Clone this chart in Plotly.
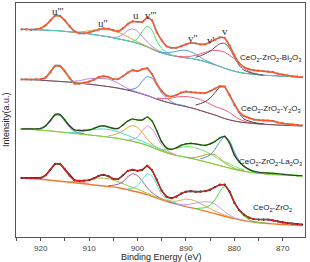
import plotly.graph_objects as go

# ---- energy grids (binding energy, eV) ----
E1 = list(range(924, 865, -1))   # 1 eV grid for measured spectra
E2 = list(range(924, 865, -2))   # 2 eV grid for backgrounds

# ================= CeO2-ZrO2-Bi2O3 =================
bi_data = [208, 208, 207.5, 208, 209, 212, 217, 222, 221.5, 217, 211, 206, 204, 204, 205, 206.5,
           208, 209, 208.5, 207, 206, 209, 213.5, 216, 215.5, 215.5, 220, 217, 205, 197, 191, 189.5,
           189.5, 191, 193, 194.5, 194, 193, 193, 195.5, 197.5, 200, 199.5, 192, 182, 174, 170, 168,
           167, 166.5, 166, 165.5, 165, 163.5, 162.5, 161.5, 161, 160.5, 160]
bi_bg = [208, 207.8, 207.5, 207, 206.5, 205.5, 204.5, 203.5, 202, 200.5, 198.5, 196.5, 194, 190.5,
         186, 183, 181, 179.5, 178, 175.5, 172.5, 169, 166, 164, 163, 162, 161.5, 161, 160.5, 160]
bi_u3_start, bi_u3 = 922, [208, 208, 208.5, 211.5, 216.5, 221.5, 221, 216, 210, 206, 204.5, 204]
bi_u2_start, bi_u2 = 914, [205.5, 205.5, 206.5, 207.8, 207.5, 205, 200.5, 195.5, 191, 186.5]
bi_u_start, bi_u = 906, [200.5, 200, 200.5, 203, 207, 208.5, 206, 201, 195.5, 191, 187.5, 185, 183.5, 182, 181]
bi_v3_start, bi_v3 = 902, [196, 196, 199, 206, 211, 207, 196, 189, 185, 182.5, 181, 180, 179.5]
bi_v2_start, bi_v2 = 896, [186, 185, 184.5, 185, 186, 187, 187, 185.5, 183, 180, 177, 175, 172.5]
bi_v1_start, bi_v1 = 892, [181, 180.7, 180.5, 181, 182, 183.5, 185, 186.5, 187, 186.5, 185, 182, 178.5,
                           174, 169, 166, 164, 163]
bi_v_start, bi_v = 888, [180, 181.5, 183.5, 186, 190, 193.5, 194, 189, 180, 172, 167, 165, 163.5, 162.7, 162]

# ================= CeO2-ZrO2-Y2O3 =================
y_data = [157.7, 157.7, 157.5, 157.7, 158, 159.5, 165, 171.5, 171.5, 166, 159, 153.5, 153.5, 154.5,
          155.5, 157.5, 160, 161, 160, 158, 158, 161, 164.5, 167, 166, 168, 169, 163, 153, 146, 141.5,
          140.5, 142, 144.5, 145.5, 145, 144.5, 144, 144, 146, 148.5, 151, 150.5, 142, 132, 125, 121,
          119, 117.5, 117, 116.5, 116.5, 116, 114.5, 113.5, 113, 112.5, 112, 111.5]
y_bg = [157.7, 157.5, 157, 156.3, 155.7, 155, 154, 153, 151.8, 150.5, 149, 147, 144.5, 141.5, 138,
        135, 132.5, 130.5, 128, 125, 122, 118.5, 116, 114.5, 113.5, 112.8, 112.2, 111.8, 111.4, 111]
y_u3_start, y_u3 = 922, [157.5, 157.5, 157.5, 159, 164, 170.5, 170.5, 164.5, 158.5, 155.5, 154.5, 154, 153.5]
y_u2_start, y_u2 = 914, [155.5, 156.5, 158.5, 158.7, 158, 154, 148.5, 145, 141.8, 138.3]
y_v3_start, y_v3 = 902, [147.5, 148, 150, 156, 160.5, 159, 152, 144, 139, 135.5, 133, 132, 131]
y_v2_start, y_v2 = 896, [139, 138.5, 138.5, 139, 140, 140.5, 140.5, 140, 139, 137.5, 135.5, 133, 130.5,
                         129, 127, 124.5, 121, 118, 116, 114.5, 114]
y_v_start, y_v = 888, [132, 133.5, 135.5, 139, 144.5, 150, 150, 143, 132, 124, 118, 116, 114.5, 113.7, 113]

# ================= CeO2-ZrO2-La2O3 =================
la_data = [108, 108, 108, 108, 108.5, 111, 116.5, 122.5, 122.5, 117, 111, 107, 106.5, 106.5, 107,
           108.5, 110.5, 111, 110, 108.5, 108.5, 112, 116, 118, 117, 117, 120, 116, 106, 95, 89, 87.5,
           89, 91.5, 93, 93.5, 93, 92, 91.5, 93, 95.5, 99, 100.5, 94, 82, 75, 70.5, 67.5, 65.5, 64.5,
           64, 63.7, 63.5, 63, 62.5, 62, 61.5, 61.2, 61]
la_bg = [108, 107.5, 106.8, 106, 105, 104, 103, 102, 101, 99.8, 98.5, 96.5, 94.5, 91.5, 87.5, 84,
         81.5, 79.5, 77.5, 75, 72.5, 70, 67.5, 65.5, 64, 63, 62.3, 61.8, 61.4, 61]
la_u3_start, la_u3 = 922, [108, 108, 108, 110.5, 115.5, 121.5, 121.5, 115.5, 109.5, 105.5, 104, 103.5]
la_u2_start, la_u2 = 914, [104.5, 105, 106.5, 108, 107.5, 105, 101.5, 97.5, 93.5, 89, 85]
la_u_start, la_u = 906, [101, 102, 103.5, 106, 109.5, 111.3, 109.5, 104.5, 98, 93, 89.5, 87, 85, 83.2, 82]
la_v3_start, la_v3 = 902, [97, 97.5, 100, 106, 111, 108, 100, 92, 87, 84, 82]
la_v2_start, la_v2 = 896, [88.5, 87.5, 87, 87.5, 88.5, 89.5, 90.3, 90, 89, 87.5, 85.5, 83, 80, 77, 75,
                           73, 70.5, 68.5, 67]
la_v1_start, la_v1 = 890, [79.5, 79, 79.5, 80.5, 82, 82.7, 82, 78.5, 74, 71, 68.5, 67, 66]
la_v_start, la_v = 887, [78, 79.5, 82, 87.5, 95, 100, 96, 85, 76, 70, 67, 65, 64, 63.5]

# ================= CeO2-ZrO2 =================
zr_data = [58.7, 58.7, 58.5, 58.5, 59, 61.5, 67, 73, 73, 67.5, 61, 56.5, 56, 56, 56.5, 58.5, 61, 62,
           60.5, 58, 57.5, 61.5, 66, 67, 66, 67, 71, 66.5, 57, 46, 40, 38.5, 40, 43, 45, 45.5, 45, 45,
           45.5, 47, 49.5, 52, 52, 45, 34, 26.5, 22, 19, 17.5, 17, 17, 17, 16, 15, 14, 13.5, 13, 12.5, 12]
zr_bg = [58.7, 58.2, 57.5, 56.5, 55.5, 54.5, 53.5, 52.3, 51.2, 50.2, 49, 47, 44.7, 42, 38.5, 35.3,
         32.5, 30, 28, 25.5, 23, 20.3, 18, 16, 14.5, 13.5, 12.7, 12, 11.5, 11]
zr_u3_start, zr_u3 = 922, [58.2, 58, 58, 60.5, 66, 72, 72, 66, 60, 56, 54.5, 54, 53]
zr_u2_start, zr_u2 = 914, [55, 55.5, 57, 58.7, 58, 55, 51, 47.5, 43.5, 39]
zr_u_start, zr_u = 906, [51, 51.5, 52.5, 55, 60, 63, 61, 55.5, 49, 44, 40.5, 38, 36, 34.5, 33]
zr_v3_start, zr_v3 = 902, [48, 48.5, 51, 57, 63, 60.5, 52, 42, 38, 35, 33.5, 32, 30.5]
zr_v2_start, zr_v2 = 896, [39, 37.5, 36, 35.5, 35.5, 36.5, 37.5, 37, 35.5, 33, 30.5, 28, 25.5, 23.5,
                           21.5, 20, 18.5]
zr_v1_start, zr_v1 = 892, [32.5, 32, 32, 32.5, 33.5, 34.5, 35, 34.5, 32.5, 29, 25, 21.5, 19, 17.5, 16.5]
zr_v_start, zr_v = 888, [28, 28.5, 29, 31.5, 37, 45, 50.5, 46, 35, 26, 20.5, 17, 15, 14, 13.5]

# ---- labels ----
peak_labels = ["u'''", "u''", "u", "v'''", "v''", "v'", "v"]
peak_label_x = [916.6, 907.3, 900.3, 897.4, 888.7, 884.8, 882.0]
peak_label_y = [226, 214.5, 222, 222, 199.5, 197.5, 206.5]
sample_names = ["CeO<sub>2</sub>-ZrO<sub>2</sub>-Bi<sub>2</sub>O<sub>3</sub>",
                "CeO<sub>2</sub>-ZrO<sub>2</sub>-Y<sub>2</sub>O<sub>3</sub>",
                "CeO<sub>2</sub>-ZrO<sub>2</sub>-La<sub>2</sub>O<sub>3</sub>",
                "CeO<sub>2</sub>-ZrO<sub>2</sub>"]
sample_label_x = [865.8, 865.8, 865.6, 867.6]
sample_label_y = [179, 128.5, 74.5, 28.5]

fig = go.Figure()


def line(x, y, color, width=1.0, shape="spline"):
    fig.add_trace(go.Scatter(x=x, y=y, mode="lines", line=dict(color=color, width=width, shape=shape,
                                                               smoothing=0.8),
                             hoverinfo="skip", showlegend=False))


def comp(start, vals, color, step=1):
    xs = [start - step * i for i in range(len(vals))]
    line(xs, vals, color)


def data(y, color):
    fig.add_trace(go.Scatter(x=E1, y=y, mode="lines+markers",
                             line=dict(color=color, width=1.4),
                             marker=dict(color=color, size=2.2),
                             hoverinfo="skip", showlegend=False))


# Bi2O3
line(E2, bi_bg, "#7A3F8C", 1.0)
line(E2, bi_bg, "#3FE0B0", 1.0)
comp(bi_u3_start, bi_u3, "#3CCFC8")
comp(bi_u2_start, bi_u2, "#D8A838", step=2)
comp(bi_u_start, bi_u, "#B088E8")
comp(bi_v3_start, bi_v3, "#45E070")
comp(bi_v2_start, bi_v2, "#5B9BD5")
comp(bi_v1_start, bi_v1, "#F05A78")
comp(bi_v_start, bi_v, "#505058")
line(E1, bi_data, "#86C8EE", 1.8)
data(bi_data, "#FF5424")

# Y2O3
line(E2, y_bg, "#D8A838", 1.0)
line(E2, y_bg, "#6A3D7A", 1.0)
comp(y_u3_start, y_u3, "#D8A838")
comp(y_u2_start, y_u2, "#B088E8", step=2)
comp(y_v3_start, y_v3, "#4A90D9")
comp(y_v2_start, y_v2, "#F05A78")
comp(y_v_start, y_v, "#404048")
line(E1, y_data, "#86C8EE", 1.8)
data(y_data, "#FF5424")

# La2O3
line(E2, la_bg, "#C8B040", 1.0)
line(E2, la_bg, "#6CD840", 1.0)
comp(la_u3_start, la_u3, "#9060B0")
comp(la_u2_start, la_u2, "#40E0C8", step=2)
comp(la_u_start, la_u, "#D4A838")
comp(la_v3_start, la_v3, "#C898E8")
comp(la_v2_start, la_v2, "#60F060")
comp(la_v1_start, la_v1, "#B8A030")
comp(la_v_start, la_v, "#3A8FD0")
data(la_data, "#66E82C")
line(E1, la_data, "#303838", 1.2)

# ZrO2
line(E2, zr_bg, "#F07830", 1.4)
comp(zr_u3_start, zr_u3, "#F08870")
comp(zr_u2_start, zr_u2, "#A0C040", step=2)
comp(zr_u_start, zr_u, "#906080")
comp(zr_v3_start, zr_v3, "#50E8D0")
comp(zr_v2_start, zr_v2, "#E0B040")
comp(zr_v1_start, zr_v1, "#C0A0E8")
comp(zr_v_start, zr_v, "#40D840")
data(zr_data, "#222222")
line(E1, zr_data, "#E82020", 1.2)

for t, x, y in zip(peak_labels, peak_label_x, peak_label_y):
    fig.add_annotation(x=x, y=y, text=t, showarrow=False, xanchor="center", yanchor="middle",
                       font=dict(family="Liberation Serif", size=11, color="#333333"))
for t, x, y in zip(sample_names, sample_label_x, sample_label_y):
    fig.add_annotation(x=x, y=y, text=t, showarrow=False, xanchor="right", yanchor="middle",
                       font=dict(family="Liberation Sans", size=8, color="#222222"))

# axis titles
fig.add_annotation(xref="paper", yref="paper", x=0.504, y=-0.086, text="Binding Energy (eV)",
                   xanchor="center", yanchor="middle",
                   showarrow=False, font=dict(family="Liberation Sans", size=9, color="#222222"))
fig.add_annotation(xref="paper", yref="paper", x=-0.0345, y=0.5, text="Intensity(a.u.)", textangle=-90,
                   xanchor="center", yanchor="middle",
                   showarrow=False, font=dict(family="Liberation Sans", size=9, color="#222222"))

fig.update_layout(
    width=310, height=262,
    margin=dict(l=16, r=4.5, t=2.5, b=24.5, autoexpand=False),
    paper_bgcolor="white", plot_bgcolor="white",
    font=dict(family="Liberation Sans", size=8, color="#333333"),
)
fig.update_xaxes(range=[925.1, 865.4], dtick=10, tick0=920, ticks="outside", ticklen=3,
                 tickcolor="#555555", showgrid=False, zeroline=False, automargin=False,
                 showline=True, linecolor="#555555", linewidth=1, mirror=True,
                 minor=dict(dtick=5, tick0=925, ticks="outside", ticklen=3, tickcolor="#555555"),
                 tickfont=dict(size=8, color="#444444"))
fig.update_yaxes(range=[-0.5, 234.5], showticklabels=False, ticks="", showgrid=False, zeroline=False,
                 automargin=False,
                 showline=True, linecolor="#555555", linewidth=1, mirror=True)

fig.write_html("out.html", config={"displayModeBar": False},
               post_script="document.body.style.margin='0px';")
